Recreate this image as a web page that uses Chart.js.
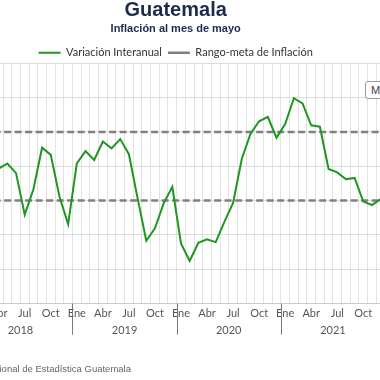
<!DOCTYPE html>
<html>
<head>
<meta charset="utf-8">
<title>Guatemala - Inflación al mes de mayo</title>
<script src="https://cdn.jsdelivr.net/npm/chart.js@4.4.1/dist/chart.umd.min.js"></script>
<style>
  html, body { margin: 0; padding: 0; background: #fff; }
  body { width: 380px; height: 380px; position: relative; overflow: hidden; }
  #chart { position: absolute; left: -40px; top: 0; }
  #menu {
    position: absolute; left: 365px; top: 81px; height: 16px; width: 50px;
    border: 1px solid #9a9a9a; border-radius: 3px; box-sizing: content-box;
    font: 11px 'Liberation Sans', Arial, sans-serif; color: #444;
    line-height: 16px; padding-left: 5px; background: #fff;
  }
  #fuente {
    position: absolute; right: 249px; top: 363px; white-space: nowrap;
    font: 9.5px 'Liberation Sans', Arial, sans-serif; color: #666;
  }
</style>
</head>
<body>
<canvas id="chart" width="430" height="380"></canvas>
<div id="menu">Meses</div>
<div id="fuente">Fuente: Instituto Nacional de Estadística Guatemala</div>
<script>
const years = [2018, 2019, 2020, 2021]
const monthNames = ["Ene", "Feb", "Mar", "Abr", "May", "Jun", "Jul", "Ago", "Sep", "Oct", "Nov", "Dic"]

// variación interanual (%), ene-mar 2018 quedan fuera del recorte
const inflation2018 = [null, null, null, 3.93, 4.08, 3.80, 2.59, 3.33, 4.54, 4.33, 3.12, 2.31]
const inflation2019 = [4.08, 4.44, 4.18, 4.72, 4.52, 4.79, 4.35, 3.07, 1.83, 2.19, 2.92, 3.40]
const inflation2020 = [1.75, 1.24, 1.77, 1.87, 1.79, 2.38, 2.93, 4.21, 4.94, 5.31, 5.44, 4.83]
const inflation2021 = [5.23, 5.98, 5.83, 5.19, 5.15, 3.92, 3.82, 3.62, 3.66, 2.97, 2.87, 3.04]

const targetLow = 3
const targetHigh = 5

let labels = []
for (let y of years) {
    for (let m of monthNames) {
        labels.push(m + " " + y)
    }
}
const inflation = inflation2018.concat(inflation2019, inflation2020, inflation2021)

const axisFont = { family: "Lato, 'Open Sans', sans-serif", size: 11 }

// lineas verticales entre años, debajo del eje
const yearSeparators = {
    id: "yearSeparators",
    afterDraw(chart) {
        const scale = chart.scales.years
        const ctx = chart.ctx
        const bottom = chart.chartArea.bottom
        ctx.save()
        ctx.strokeStyle = "#777"
        ctx.lineWidth = 1
        for (let i = 0; i <= years.length; i++) {
            const x = Math.round(scale.getPixelForValue(i * 12 - 0.5)) + 0.5
            ctx.beginPath()
            ctx.moveTo(x, bottom)
            ctx.lineTo(x, bottom + 31)
            ctx.stroke()
        }
        ctx.restore()
    }
}

// legend sits closer to the plot
const legendMargin = {
    id: "legendMargin",
    beforeInit(chart) {
        const fitValue = chart.legend.fit
        chart.legend.fit = function fit() {
            fitValue.bind(chart.legend)()
            this.height -= 5
        }
    }
}

new Chart(document.getElementById("chart"), {
    type: "line",
    data: {
        labels: labels,
        datasets: [{
            label: "Variación Interanual",
            data: inflation,
            borderColor: "#1f961f",
            backgroundColor: "#1f961f",
            borderWidth: 2,
            tension: 0,
            pointRadius: 0
        }, {
            label: "Rango-meta de Inflación",
            data: labels.map(() => targetHigh),
            borderColor: "#808080",
            backgroundColor: "#808080",
            borderWidth: 2.5,
            borderDash: [7, 3.5],
            pointRadius: 0
        }, {
            label: "Rango-meta de Inflación (mín)",
            data: labels.map(() => targetLow),
            borderColor: "#808080",
            backgroundColor: "#808080",
            borderWidth: 2.5,
            borderDash: [7, 3.5],
            pointRadius: 0
        }]
    },
    plugins: [yearSeparators, legendMargin],
    options: {
        responsive: false,
        animation: false,
        layout: {
            padding: { left: 6.4, right: 5, top: 0, bottom: 42 }
        },
        plugins: {
            title: {
                display: true,
                text: "Guatemala",
                color: "#1b2c4b",
                font: { family: "'Liberation Sans', Arial, sans-serif", size: 20, weight: "bold", lineHeight: 1 },
                padding: { top: 0, bottom: 1 }
            },
            subtitle: {
                display: true,
                text: "Inflación al mes de mayo",
                color: "#1b2c4b",
                font: { family: "'Liberation Sans', Arial, sans-serif", size: 11, weight: "bold" },
                padding: { top: 1, bottom: 6 }
            },
            legend: {
                labels: {
                    usePointStyle: true,
                    pointStyle: "line",
                    pointStyleWidth: 22,
                    boxHeight: 10,
                    padding: 6,
                    color: "#333",
                    font: axisFont,
                    filter: item => item.datasetIndex !== 2
                }
            },
            tooltip: { enabled: false }
        },
        scales: {
            x: {
                type: "category",
                offset: true,
                weight: 0,
                grid: { offset: true, color: "#e2e2e2", drawTicks: false },
                border: { color: "#cccccc" },
                ticks: {
                    autoSkip: false,
                    maxRotation: 0,
                    minRotation: 0,
                    padding: 3.5,
                    color: "#555",
                    font: axisFont,
                    callback: (value, index) => index % 3 === 0 ? monthNames[index % 12] : ""
                }
            },
            years: {
                type: "linear",
                position: "bottom",
                weight: 1,
                bounds: "data",
                min: -0.5,
                max: labels.length - 0.5,
                grid: { display: false, drawTicks: false },
                border: { display: false },
                afterBuildTicks: scale => {
                    scale.ticks = years.map((y, i) => ({ value: i * 12 + 5.5 }))
                },
                ticks: {
                    autoSkip: false,
                    maxRotation: 0,
                    padding: 0.5,
                    color: "#555",
                    font: axisFont,
                    callback: (value, index) => years[index]
                }
            },
            y: {
                min: 0,
                max: 7,
                grid: { color: "#dcdcdc", drawTicks: false },
                border: { display: false },
                ticks: { stepSize: 1, display: false }
            }
        }
    }
})
</script>
</body>
</html>
